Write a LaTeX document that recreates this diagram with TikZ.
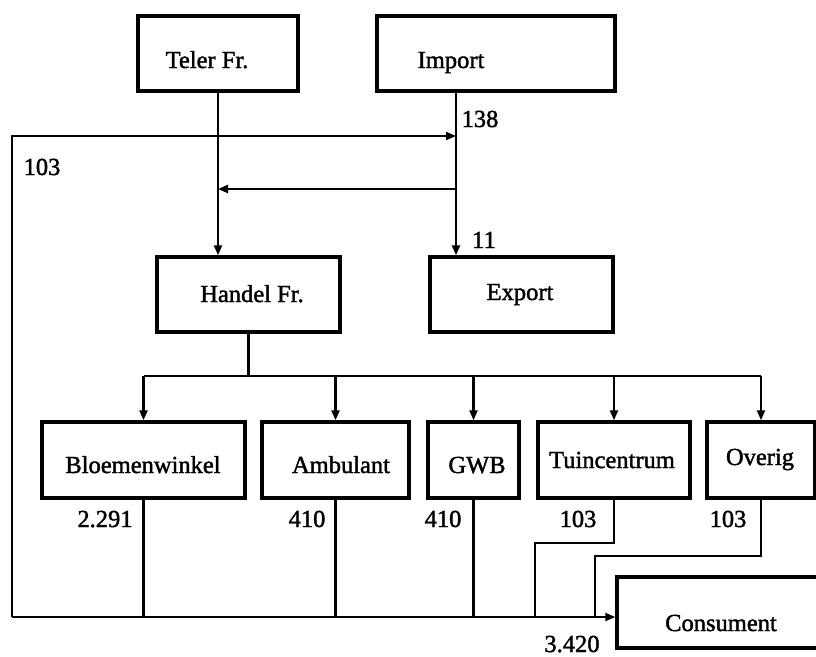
\documentclass[tikz,border=0pt]{standalone}
\usepackage{fontspec}
\setmainfont{Liberation Serif}
\newfontfamily\scanfont{Liberation Serif}[FakeBold=1.6]
\usetikzlibrary{arrows.meta}
\begin{document}
\begin{tikzpicture}[x=1pt,y=-1pt,
  flowbox/.style={draw, line width=3.4pt, inner sep=0pt},
  lbl/.style={anchor=base, inner sep=0pt, font=\scanfont\fontsize{24.5}{28}\selectfont},
  flow/.style={line width=2.2pt},
  arr/.style={flow, -{Triangle[length=10pt,width=8pt]}},
]
\useasboundingbox (0,0) rectangle (816,656);
\clip (0,0) rectangle (816,656);

% boxes
\node[flowbox, minimum width=160pt, minimum height=75pt] (teler)  at (218,53.5) {};
\node[flowbox, minimum width=238pt, minimum height=75pt] (import) at (496,53.5) {};
\node[flowbox, minimum width=183pt, minimum height=75pt] (handel) at (248.5,294.5) {};
\node[flowbox, minimum width=183pt, minimum height=75pt] (export) at (521.5,294.5) {};
\node[flowbox, minimum width=203pt, minimum height=76pt] (bloem)  at (143.5,460) {};
\node[flowbox, minimum width=147pt, minimum height=76pt] (amb)    at (335.5,460) {};
\node[flowbox, minimum width=91pt,  minimum height=76pt] (gwb)    at (473.5,460) {};
\node[flowbox, minimum width=152pt, minimum height=76pt] (tuin)   at (614,460) {};
\node[flowbox, minimum width=108pt, minimum height=76pt] (overig) at (761,460) {};
\node[flowbox, minimum width=213pt, minimum height=71pt] (cons)   at (723.5,612.5) {};

% box texts
\node[lbl] (tTeler)  at (207,68)  {Teler Fr.};
\node[lbl] (tImport) at (451,68)  {Import};
\node[lbl] (tHandel) at (252,302) {Handel Fr.};
\node[lbl] (tExport) at (520,300) {Export};
\node[lbl] (tBloem)  at (143,473) {Bloemenwinkel};
\node[lbl] (tAmb)    at (341,473) {Ambulant};
\node[lbl] (tGwb)    at (477,473) {GWB};
\node[lbl] (tTuin)   at (612,468) {Tuincentrum};
\node[lbl] (tOverig) at (760,465) {Overig};
\node[lbl] (tCons)   at (721,631) {Consument};

% number labels
\node[lbl] (n138)  at (480,127) {138};
\node[lbl] (n103a) at (42,175)  {103};
\node[lbl] (n11)   at (484,248) {11};
\node[lbl] (n2291) at (105,527) {2.291};
\node[lbl] (n410a) at (307,527) {410};
\node[lbl] (n410b) at (443,527) {410};
\node[lbl] (n103b) at (578,527) {103};
\node[lbl] (n103c) at (728,527) {103};
\node[lbl] (n3420) at (572,652) {3.420};

% helper coordinates
\coordinate (imp) at (456,91);
\coordinate (cx)  at (456,136);
\coordinate (sp)  at (456,189);
\coordinate (lb)  at (12,617);
\coordinate (hb)  at (248,376);
\coordinate (tk)  at (535,543);
\coordinate (ok)  at (595,556);

% top part
\draw[arr] (teler.south) -- (teler.south |- handel.north);
\draw[arr] (imp) -- (imp |- export.north);
\draw[arr] (sp) -- (sp -| teler.south);
\draw[arr] (lb) -- (lb |- cx) -- (cx);

% distribution from Handel
\draw[flow] (handel.south) -- (handel.south |- hb);
\draw[flow] (bloem.north |- hb) -- (overig.north |- hb);
\foreach \n in {bloem,amb,gwb,tuin,overig}
  \draw[arr] (\n.north |- hb) -- (\n.north);

% to consument
\draw[flow] (bloem.south) -- (bloem.south |- lb);
\draw[flow] (amb.south) -- (amb.south |- lb);
\draw[flow] (gwb.south) -- (gwb.south |- lb);
\draw[flow] (tuin.south) |- (tk) -- (tk |- lb);
\draw[flow] (overig.south) |- (ok) -- (ok |- lb);
\draw[arr] (lb) -- (lb -| cons.west);
\end{tikzpicture}
\end{document}
